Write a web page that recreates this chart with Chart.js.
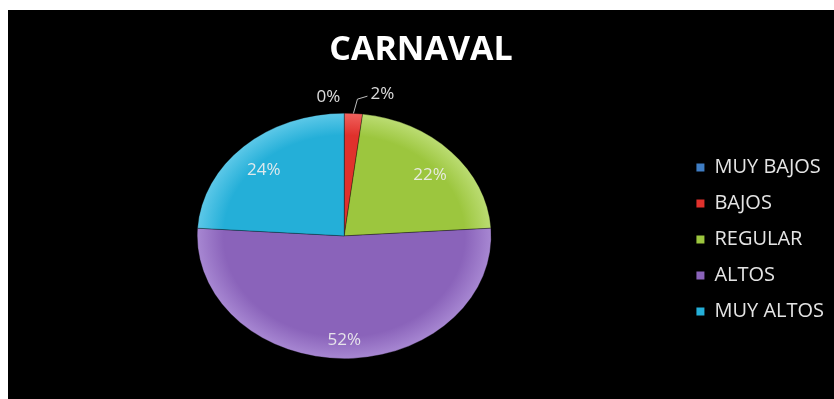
<!DOCTYPE html>
<html>
<head>
<meta charset="utf-8">
<script src="https://cdn.jsdelivr.net/npm/chart.js@4.4.1/dist/chart.umd.min.js"></script>
<style>
  html, body { margin: 0; padding: 0; background: #fff; }
  #box { position: absolute; left: 8px; top: 10px; width: 826px; height: 389px; background: #000; }
</style>
</head>
<body>
<div id="box"><canvas id="pie"></canvas></div>
<script>
const categories = ["MUY BAJOS", "BAJOS", "REGULAR", "ALTOS", "MUY ALTOS"];
const percents = [0, 2, 22, 52, 24];
const sliceColors = ["#3F7DC4", "#E0312C", "#9CC63E", "#8A63BA", "#24AFD8"];
const edgeColors = ["#6A9BD6", "#F0625E", "#BBDC72", "#A787D2", "#5CC8E8"];

const squash = 0.835; // pie is drawn as an ellipse

// squeeze the arcs vertically around the pie centre
const ellipsePlugin = {
  id: "ellipse",
  beforeDatasetsDraw(chart) {
    const arc = chart.getDatasetMeta(0).data[0];
    const ctx = chart.ctx;
    ctx.save();
    ctx.translate(arc.x, arc.y);
    ctx.scale(1, squash);
    ctx.translate(-arc.x, -arc.y);
  },
  afterDatasetsDraw(chart) {
    chart.ctx.restore();
  }
};

// percentage labels, inside for big slices and outside for tiny ones
const pctLabels = {
  id: "pctLabels",
  afterDatasetsDraw(chart) {
    const ctx = chart.ctx;
    const meta = chart.getDatasetMeta(0);
    ctx.save();
    ctx.font = "17px 'Open Sans'";
    ctx.textBaseline = "middle";
    ctx.fillStyle = "rgba(238,238,238,0.92)";
    ctx.strokeStyle = "rgba(210,210,210,0.9)";
    ctx.lineWidth = 1;
    meta.data.forEach((arc, i) => {
      const v = percents[i];
      const r = arc.outerRadius;
      const mid = (arc.startAngle + arc.endAngle) / 2;
      const top = arc.y - r * squash;
      if (v === 0) {
        ctx.textAlign = "right";
        ctx.fillText(v + "%", arc.x - 4, top - 16);
      } else if (v < 5) {
        const ex = arc.x + Math.cos(mid) * r;
        const ey = arc.y + Math.sin(mid) * r * squash;
        ctx.beginPath();
        ctx.moveTo(ex, ey);
        ctx.lineTo(ex + 4, top - 14);
        ctx.lineTo(ex + 14, top - 17);
        ctx.stroke();
        ctx.textAlign = "left";
        ctx.fillText(v + "%", ex + 17, top - 19);
      } else {
        const f = 0.8;
        ctx.textAlign = "center";
        ctx.fillText(v + "%", arc.x + Math.cos(mid) * r * f, arc.y + Math.sin(mid) * r * f * squash + 6);
      }
    });
    ctx.restore();
  }
};

function sliceFill(context) {
  const chart = context.chart;
  const i = context.dataIndex;
  const arc = chart.getDatasetMeta(0).data[0];
  if (!arc || !arc.outerRadius) return sliceColors[i];
  const g = chart.ctx.createRadialGradient(arc.x, arc.y, 0, arc.x, arc.y, arc.outerRadius);
  g.addColorStop(0, sliceColors[i]);
  g.addColorStop(0.82, sliceColors[i]);
  g.addColorStop(1, edgeColors[i]);
  return g;
}

new Chart(document.getElementById("pie"), {
  type: "pie",
  data: {
    labels: categories,
    datasets: [{
      data: percents,
      backgroundColor: sliceFill,
      borderColor: "rgba(0,0,0,0.35)",
      borderWidth: 1,
      radius: 147
    }]
  },
  options: {
    responsive: true,
    maintainAspectRatio: false,
    animation: false,
    layout: { padding: { left: 0, right: 0, top: 0, bottom: 8 } },
    plugins: {
      title: {
        display: true,
        text: "CARNAVAL",
        color: "#fff",
        font: { family: "'Open Sans'", size: 34, weight: "bold" },
        padding: { top: 20, bottom: 10 }
      },
      legend: {
        position: "right",
        title: {
          display: true,
          text: " ",
          font: { size: 10 },
          padding: 33
        },
        labels: {
          color: "#e4e4e4",
          font: { family: "'Open Sans'", size: 20 },
          boxWidth: 8,
          boxHeight: 8,
          padding: 16,
          generateLabels(chart) {
            return categories.map((c, i) => ({
              text: c,
              fillStyle: sliceColors[i],
              strokeStyle: sliceColors[i],
              lineWidth: 0,
              fontColor: "#e4e4e4",
              index: i
            }));
          }
        }
      },
      tooltip: { enabled: false }
    }
  },
  plugins: [ellipsePlugin, pctLabels]
});
</script>
</body>
</html>
